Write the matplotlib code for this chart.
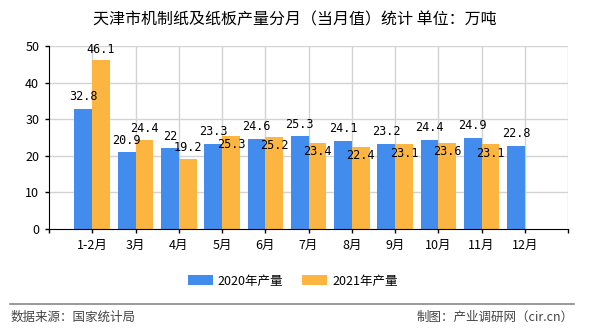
import matplotlib
matplotlib.use("Agg")
import matplotlib.pyplot as plt
import numpy as np

plt.rcParams['font.family'] = ['Noto Sans CJK SC', 'DejaVu Sans']

months = ["1-2月", "3月", "4月", "5月", "6月", "7月", "8月", "9月", "10月", "11月", "12月"]
vals_2020 = [32.8, 20.9, 22, 23.3, 24.6, 25.3, 24.1, 23.2, 24.4, 24.9, 22.8]
vals_2021 = [46.1, 24.4, 19.2, 25.3, 25.2, 23.4, 22.4, 23.1, 23.6, 23.1]

blue = "#428ced"
orange = "#fbb540"

fig = plt.figure(figsize=(5.9, 3.3), dpi=100)
ax = fig.add_axes([0.083, 0.306, 0.880, 0.555])

x = np.arange(len(months))
w = 0.41
x21 = x[:len(vals_2021)]
b1 = ax.bar(x - w / 2, vals_2020, w, color=blue, label="2020年产量", zorder=3)
b2 = ax.bar(x21 + w / 2, vals_2021, w, color=orange, label="2021年产量", zorder=3)

lab_font = dict(family="DejaVu Sans Mono", fontsize=8.5, ha="center", va="center", zorder=5)
for xi, v in zip(x, vals_2020):
    ax.annotate(f"{v:g}", (xi - w / 2, v), xytext=(0, 8.8), textcoords="offset points", **lab_font)
for i, (xi, v) in enumerate(zip(x21, vals_2021)):
    dy = 8.0 if i < 3 else -6.2
    ax.annotate(f"{v:g}", (xi + w / 2, v), xytext=(0, dy), textcoords="offset points", **lab_font)

ax.set_xlim(-1, 11)
ax.set_ylim(0, 50)
ax.set_yticks(range(0, 51, 10))
ax.set_xticks(x)
ax.set_xticklabels(months, fontsize=9)
ax.set_xticks(range(-1, 12), minor=True)
ax.tick_params(axis="x", which="minor", length=3, width=1, color="black")
ax.tick_params(axis="x", which="major", length=3, width=1, pad=4)
ax.tick_params(axis="y", length=3, width=1, labelsize=9, pad=4)

for v in range(10, 51, 10):
    ax.axhline(v, color="#d3d3d3", lw=1, zorder=1)
for v in list(x) + [11]:
    ax.axvline(v, color="#d3d3d3", lw=1, zorder=1)

for s in ["top", "right"]:
    ax.spines[s].set_visible(False)
ax.spines["left"].set_color("black")
ax.spines["bottom"].set_color("black")
ax.spines["left"].set_zorder(4)
ax.spines["bottom"].set_zorder(4)

fig.text(0.5, 1 - 19.5 / 330, "天津市机制纸及纸板产量分月（当月值）统计 单位：万吨",
         ha="center", va="center", fontsize=11.5)

fig.legend(handles=[b1, b2], loc="center", bbox_to_anchor=(0.496, 1 - 281 / 330), ncol=2,
           frameon=False, fontsize=9, handlelength=2.0, handleheight=0.9,
           handletextpad=0.4, columnspacing=1.5)

fig.add_artist(plt.Line2D([10 / 590, 574 / 590], [1 - 304 / 330] * 2, color="#888888", lw=1.2))
fig.text(11 / 590, 1 - 317 / 330, "数据来源：国家统计局", ha="left", va="center", fontsize=9, color="#444444")
fig.text(574 / 590, 1 - 317 / 330, "制图：产业调研网（cir.cn）", ha="right", va="center", fontsize=9, color="#444444")

fig.savefig("out.png", dpi=100)
